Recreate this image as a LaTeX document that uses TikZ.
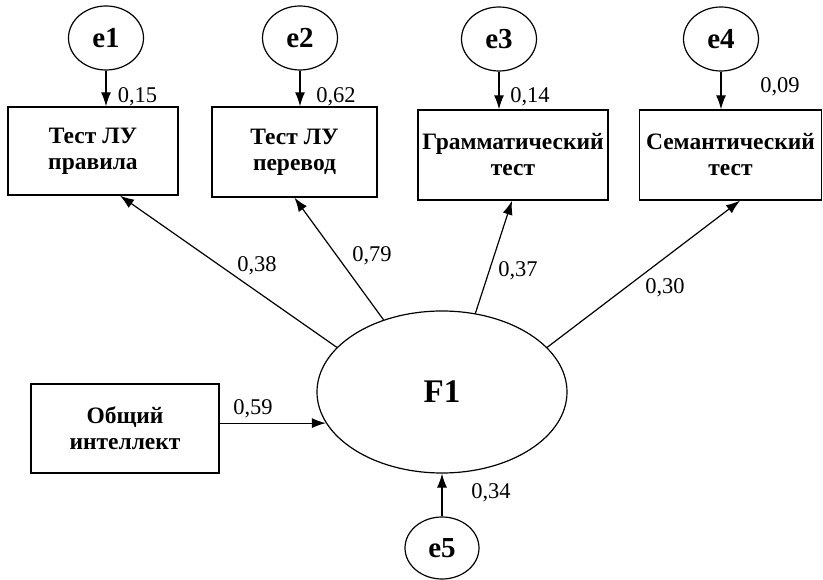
\documentclass[tikz,border=0pt]{standalone}
\usepackage{fontspec}
\setmainfont{Liberation Serif}
\usetikzlibrary{shapes.geometric,arrows.meta}

\begin{document}
\begin{tikzpicture}[x=1pt, y=-1pt,
        box/.style={draw, rectangle, line width=1.4pt, align=center, inner sep=0pt, font=\fontsize{23.5}{26}\selectfont\bfseries},
        err/.style={draw, ellipse, line width=1.2pt, inner sep=0pt, minimum width=75pt, minimum height=64pt, font=\fontsize{29}{30}\selectfont\bfseries},
        coef/.style={inner sep=0pt, font=\fontsize{22.5}{26}\selectfont},
        link/.style={-{Latex[length=14pt,width=10pt]}, line width=1.2pt}]
        \useasboundingbox (0, 0) rectangle (823, 580);
        \node[err] (e1) at (106, 38) {e1};
        \node[err] (e2) at (300, 38) {e2};
        \node[err] (e3) at (499, 39) {e3};
        \node[err] (e4) at (721, 39) {e4};
        \node[err, minimum width=74pt, minimum height=62pt] (e5) at (442, 548) {e5};
        \node[box, minimum width=170pt, minimum height=88pt] (rules) at (93, 151) {Тест ЛУ\\правила};
        \node[box, minimum width=165pt, minimum height=90pt] (transl) at (294.5, 152) {Тест ЛУ\\перевод};
        \node[box, minimum width=190pt, minimum height=90pt] (gram) at (513, 155) {Грамматический\\тест};
        \node[box, minimum width=182pt, minimum height=90pt] (sem) at (730.5, 155) {Семантический\\тест};
        \node[box, minimum width=188pt, minimum height=89pt] (intel) at (125, 428.5) {Общий\\интеллект};
        \node[draw, ellipse, line width=1.2pt, inner sep=0pt, minimum width=250pt, minimum height=162pt, font=\fontsize{33}{36}\selectfont\bfseries] (F1) at (442, 392) {F1};
        \draw[link] (e1) -- (e1 |- rules.north);
        \draw[link] (e2) -- (e2 |- transl.north);
        \draw[link] (e3) -- (e3 |- gram.north);
        \draw[link] (e4) -- (e4 |- sem.north);
        \draw[link] (e5) -- (F1);
        \draw[link] (F1.157) -- ([xshift=27pt]rules.south);
        \draw[link] (F1.129) -- (transl.south);
        \draw[link] (F1.67) -- ([xshift=-1pt]gram.south);
        \draw[link] (F1.23) -- ([xshift=9.5pt]sem.south);
        \draw[link] (F1.195 -| intel.east) -- (F1.195);
        \node[coef] (c1) at (137.5, 97) {0,15};
        \node[coef] (c2) at (336, 97) {0,62};
        \node[coef] (c3) at (530, 97) {0,14};
        \node[coef] (c4) at (780, 87) {0,09};
        \node[coef] (c5) at (257, 266) {0,38};
        \node[coef] (c6) at (372, 256) {0,79};
        \node[coef] (c7) at (518, 271) {0,37};
        \node[coef] (c8) at (665, 288) {0,30};
        \node[coef] (c9) at (253, 409) {0,59};
        \node[coef] (c10) at (491, 493) {0,34};
    \end{tikzpicture}
\end{document}
